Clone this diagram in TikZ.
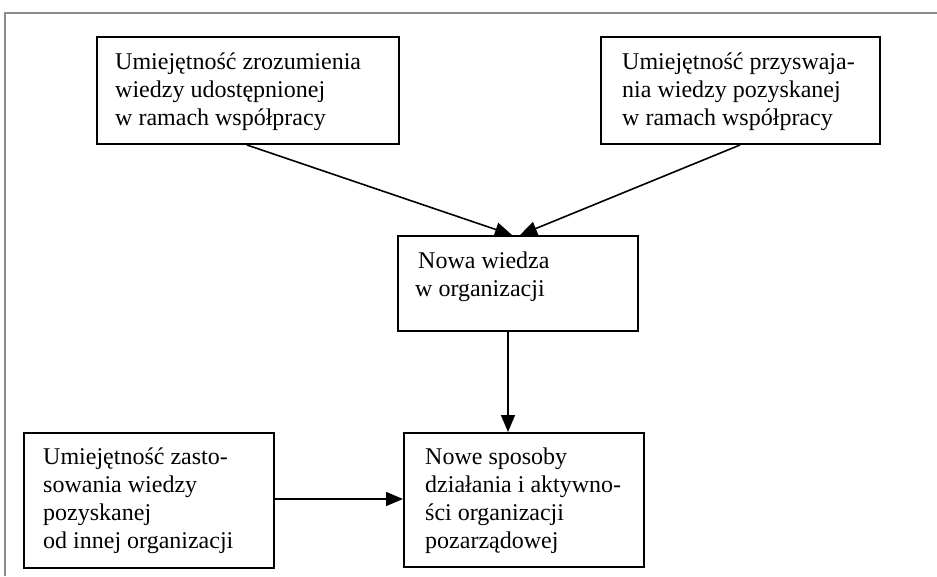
\documentclass[tikz,border=0pt]{standalone}
\usepackage{fontspec}
\setmainfont{Liberation Serif}
\usetikzlibrary{arrows.meta,calc}
\tikzset{
  boxshape/.style={draw=black, line width=2pt, rectangle, inner sep=0pt, anchor=north west},
  boxtext/.style={anchor=north west, inner sep=0pt, align=left, font=\fontsize{24}{28}\selectfont},
  conn/.style={line width=1.6pt, -{Triangle[length=17pt,width=14pt]}},
  frameline/.style={draw=black!45, line width=2pt}
}
\newcommand{\tstrut}{\rule{0pt}{22pt}}
\begin{document}
\begin{tikzpicture}[x=1pt,y=-1pt]
\useasboundingbox (0,0) rectangle (937,576);
\draw[frameline] (5,576) -- (5,12.5) -- (937,12.5);
% boxes
\node[boxshape, minimum width=302pt, minimum height=107pt] (b1) at (96,36) {};
\node[boxshape, minimum width=279pt, minimum height=107pt] (b2) at (600,36) {};
\node[boxshape, minimum width=240pt, minimum height=95pt] (b3) at (397,235) {};
\node[boxshape, minimum width=250pt, minimum height=135pt] (b4) at (23,432) {};
\node[boxshape, minimum width=240pt, minimum height=134pt] (b5) at (403,432) {};
% texts
\node[boxtext] (t1) at (115,47) {\tstrut Umiejętność zrozumienia\\wiedzy udostępnionej\\ w ramach współpracy};
\node[boxtext] (t2) at (622,47) {\tstrut Umiejętność przyswaja-\\nia wiedzy pozyskanej\\w ramach współpracy};
\node[boxtext] (t3) at (418,246) {\tstrut Nowa wiedza\\\hspace*{-3pt}w organizacji};
\node[boxtext] (t4) at (43,442) {\tstrut Umiejętność zasto-\\sowania wiedzy\\pozyskanej\\od innej organizacji};
\node[boxtext] (t5) at (425,442) {\tstrut Nowe sposoby\\działania i aktywno-\\ści organizacji\\pozarządowej};
% connectors
\draw[conn] (247,0 |- b1.south) -- (512,0 |- b3.north);
\draw[conn] (740,0 |- b2.south) -- (520,0 |- b3.north);
\draw[conn] (508,0 |- b3.south) -- (508,0 |- b5.north);
\draw[conn] (b4.east |- 0,499) -- (b5.west |- 0,499);
\end{tikzpicture}
\end{document}
